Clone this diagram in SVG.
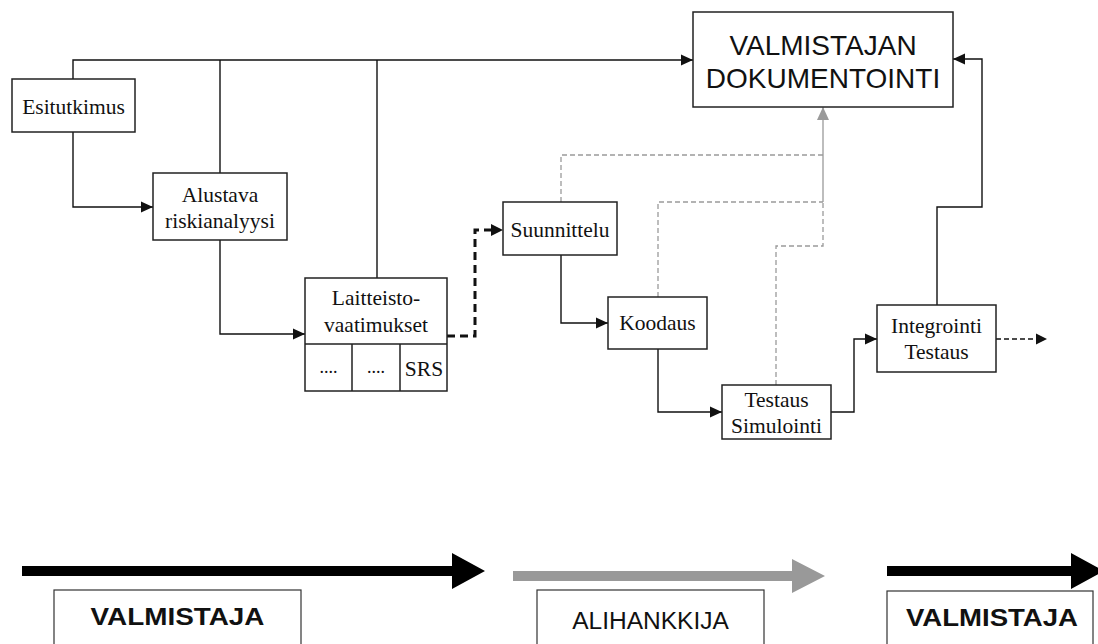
<svg xmlns="http://www.w3.org/2000/svg" width="1098" height="644" viewBox="0 0 1098 644">
  <style>
    .box { fill: #fff; stroke: #222; stroke-width: 1.5; }
    .lbl { font-family: "Liberation Serif", "Times New Roman", serif; font-size: 21.5px; fill: #111; text-anchor: middle; }
    .big { font-family: "Liberation Sans", Arial, sans-serif; font-size: 28px; fill: #111; text-anchor: middle; }
    .band { font-family: "Liberation Sans", Arial, sans-serif; font-size: 24.5px; fill: #111; text-anchor: middle; }
    .conn { fill: none; stroke: #111; stroke-width: 1.4; }
    .doc { fill: none; stroke: #9a9a9a; stroke-width: 1.3; stroke-dasharray: 5 3; }
    .docs { fill: none; stroke: #9a9a9a; stroke-width: 1.3; }
  </style>
  <defs>
    <marker id="ah" markerWidth="12" markerHeight="12" refX="12" refY="6" orient="auto" markerUnits="userSpaceOnUse">
      <path d="M0,0.5 L12,6 L0,11.5 Z" fill="#111"/>
    </marker>
    <marker id="ahg" markerWidth="12" markerHeight="13" refX="13" refY="6" orient="auto" markerUnits="userSpaceOnUse">
      <path d="M0,0 L13,6 L0,12 Z" fill="#9a9a9a"/>
    </marker>
  </defs>

  <rect width="1098" height="644" fill="#fff"/>

  <!-- connectors -->
  <g id="connectors">
    <!-- shared feed line to documentation -->
    <path class="conn" d="M73,79 V60 H693" marker-end="url(#ah)"/>
    <path class="conn" d="M220,173 V60"/>
    <path class="conn" d="M377,278 V60"/>
    <!-- main flow -->
    <path class="conn" d="M73,132 V207 H153" marker-end="url(#ah)"/>
    <path class="conn" d="M220,240 V334 H305" marker-end="url(#ah)"/>
    <path fill="none" stroke="#111" stroke-width="3" stroke-dasharray="8 5" d="M447,336 H475 V230 H491"/>
    <path d="M491,224 L503,230 L491,236 Z" fill="#111"/>
    <path class="conn" d="M561,255 V323 H608" marker-end="url(#ah)"/>
    <path class="conn" d="M658,349 V412 H722" marker-end="url(#ah)"/>
    <path class="conn" d="M831,412 H854 V339 H877" marker-end="url(#ah)"/>
    <path class="conn" d="M937,305 V207 H982 V59 H953" marker-end="url(#ah)"/>
    <path fill="none" stroke="#111" stroke-width="1.3" stroke-dasharray="5 3" d="M996,339 H1036"/>
    <path d="M1036,333.5 L1047,339 L1036,344.5 Z" fill="#111"/>
    <!-- documentation feedback (grey) -->
    <path class="doc" d="M561,202 V155 H823"/>
    <path class="doc" d="M658,297 V202 H823"/>
    <path class="doc" d="M776,385 V246 H823 V202"/>
    <path class="docs" d="M823,202 V107" marker-end="url(#ahg)"/>
  </g>

  <g id="dokumentointi">
    <rect class="box" x="693" y="12" width="260" height="95"/>
    <text class="big" x="823" y="55">VALMISTAJAN</text>
    <text class="big" x="823" y="88">DOKUMENTOINTI</text>
  </g>

  <g id="esitutkimus">
    <rect class="box" x="12" y="79" width="123" height="53"/>
    <text class="lbl" x="73.5" y="114">Esitutkimus</text>
  </g>

  <g id="riskianalyysi">
    <rect class="box" x="153" y="173" width="134" height="67"/>
    <text class="lbl" x="220" y="202">Alustava</text>
    <text class="lbl" x="220" y="228">riskianalyysi</text>
  </g>

  <g id="laitteistovaatimukset">
    <rect class="box" x="305" y="278" width="142" height="113"/>
    <path fill="none" stroke="#222" stroke-width="1.5" d="M305,344 H447 M352,344 V391 M400,344 V391"/>
    <text class="lbl" x="376" y="305">Laitteisto-</text>
    <text class="lbl" x="376" y="332">vaatimukset</text>
    <text class="lbl" x="328.5" y="373" style="font-size:18px">....</text>
    <text class="lbl" x="376" y="373" style="font-size:18px">....</text>
    <text class="lbl" x="424" y="376">SRS</text>
  </g>

  <g id="suunnittelu">
    <rect class="box" x="503" y="202" width="114" height="53"/>
    <text class="lbl" x="560" y="237">Suunnittelu</text>
  </g>

  <g id="koodaus">
    <rect class="box" x="608" y="297" width="99" height="52"/>
    <text class="lbl" x="657.5" y="330">Koodaus</text>
  </g>

  <g id="testaus-simulointi">
    <rect class="box" x="722" y="385" width="109" height="54"/>
    <text class="lbl" x="776.5" y="407">Testaus</text>
    <text class="lbl" x="776.5" y="433">Simulointi</text>
  </g>

  <g id="integrointi-testaus">
    <rect class="box" x="877" y="305" width="119" height="67"/>
    <text class="lbl" x="936.5" y="333">Integrointi</text>
    <text class="lbl" x="936.5" y="359">Testaus</text>
  </g>

  <!-- responsibility bands -->
  <g id="band-valmistaja-1">
    <path d="M22,566 H452 V553 L485,571 L452,589 V576 H22 Z" fill="#000"/>
    <rect x="54" y="590" width="247" height="70" fill="#fff" stroke="#333" stroke-width="1.2"/>
    <text class="band" x="177.5" y="625" font-size="25" font-weight="bold" textLength="174" lengthAdjust="spacingAndGlyphs">VALMISTAJA</text>
  </g>

  <g id="band-alihankkija">
    <path d="M513,571 H792 V559 L825,576 L792,593 V581 H513 Z" fill="#999"/>
    <rect x="537" y="590" width="227" height="70" fill="#fff" stroke="#333" stroke-width="1.2"/>
    <text class="band" x="650.5" y="629">ALIHANKKIJA</text>
  </g>

  <g id="band-valmistaja-2">
    <path d="M887,566 H1071 V553 L1104,571 L1071,589 V576 H887 Z" fill="#000"/>
    <rect x="887" y="591" width="206" height="70" fill="#fff" stroke="#333" stroke-width="1.2"/>
    <text class="band" x="992" y="626" font-size="25" font-weight="bold" textLength="172" lengthAdjust="spacingAndGlyphs">VALMISTAJA</text>
  </g>
</svg>
